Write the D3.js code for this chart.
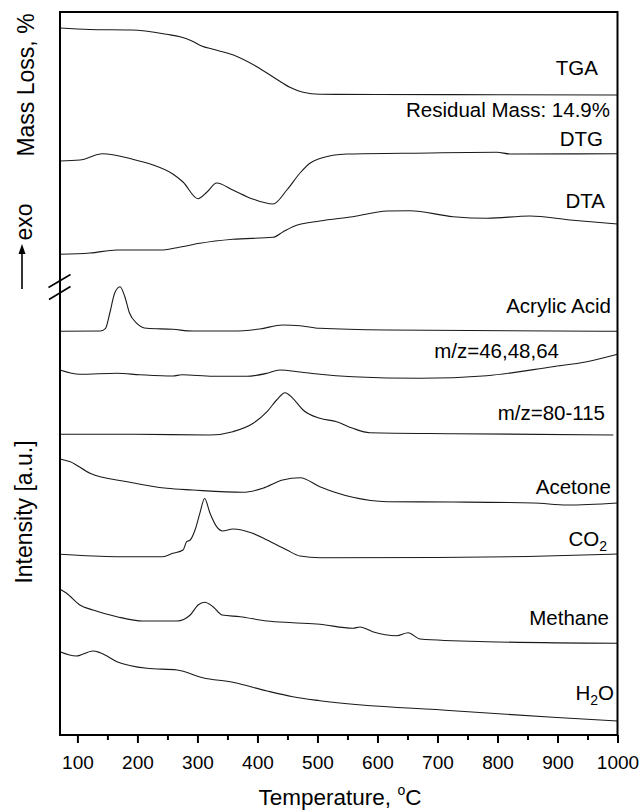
<!DOCTYPE html>
<html>
<head>
<meta charset="utf-8">
<script src="https://cdn.jsdelivr.net/npm/d3@7/dist/d3.min.js"></script>
<style>
  html, body { margin: 0; padding: 0; background: #fff; }
  text { font-family: "Liberation Sans", Arial, sans-serif; fill: #000; }
</style>
</head>
<body>
<svg id="chart" width="642" height="810"></svg>
<script>
// Temperature ticks (°C)
const majorTicks = [100, 200, 300, 400, 500, 600, 700, 800, 900, 1000];
const minorTicks = [150, 250, 350, 450, 550, 650, 750, 850, 950];

// Stacked traces, temperature (°C) and signal (a.u., vertically offset)
const tgaTemp   = [71, 120, 190, 249, 271, 290, 307, 326, 360, 399, 432, 454, 476, 504, 600, 800, 1000];
const tgaSignal = [707, 705.5, 705, 700.7, 698.3, 694.3, 689, 685.7, 680, 668.3, 655.7, 647.7, 642.7, 640.7, 640.5, 640.3, 640];

const dtgTemp   = [71, 104, 142, 192, 226, 259, 276, 301, 316, 332, 359, 392, 426, 449, 471, 488, 504, 549, 643, 799, 821, 1000];
const dtgSignal = [574, 575, 581.3, 575.7, 570, 561, 553, 536.3, 543, 552, 545, 536, 531, 545, 562, 572, 576.5, 581, 581.7, 582.7, 581, 581.3];

const dtaTemp   = [71, 121, 166, 238, 266, 304, 359, 426, 443, 459, 504, 559, 616, 654, 726, 783, 854, 921, 1000];
const dtaSignal = [480.7, 482, 485, 485, 487.3, 491.7, 495.7, 497.7, 503.3, 508.3, 514, 518.3, 524, 524.3, 518.3, 516.7, 519, 515, 511];

const acrylicTemp   = [71, 138, 147, 154, 162, 171, 179, 187, 199, 216, 259, 292, 359, 404, 442, 471, 504, 616, 1000];
const acrylicSignal = [403.7, 404, 406.7, 422, 441.7, 448.3, 438.3, 421.7, 411.7, 406.7, 405.7, 404, 404, 406, 410, 409.3, 406.7, 405, 403.7];

const mz46Temp   = [71, 104, 166, 204, 259, 274, 326, 382, 416, 437, 471, 504, 559, 671, 782, 892, 949, 1000];
const mz46Signal = [365, 360.7, 361.7, 360.3, 359, 360.3, 358.7, 358.7, 361.7, 365, 363, 360.7, 358.3, 356.7, 359.3, 368.3, 373.3, 380.7];

const mz80Temp   = [71, 192, 321, 359, 393, 416, 432, 446, 459, 476, 504, 532, 559, 587, 726, 993];
const mz80Signal = [300.7, 300.7, 300, 303.3, 311.7, 323.3, 335, 342.3, 336.7, 325, 316.7, 313.3, 306.7, 302.3, 301.3, 300];

const acetoneTemp   = [71, 88, 121, 183, 249, 292, 376, 409, 442, 471, 504, 559, 616, 726, 860, 916, 1000];
const acetoneSignal = [276, 273.3, 261.7, 253.3, 246.7, 245, 242.7, 246.7, 255, 257.3, 248.3, 237.7, 233.3, 233, 232, 230, 232];

const co2Temp   = [71, 166, 242, 259, 276, 282, 288, 296, 304, 312, 321, 332, 342, 359, 392, 416, 449, 471, 504, 700, 850, 1000];
const co2Signal = [180.7, 178.3, 178.3, 181.7, 185, 193.3, 195, 205, 221.7, 236.5, 221.7, 208.3, 204, 206, 201.7, 195, 185, 179, 177.3, 177.5, 178.5, 181];

const methaneTemp   = [71, 82, 104, 126, 166, 209, 266, 288, 301, 312, 326, 341, 371, 416, 459, 504, 559, 571, 592, 632, 651, 671, 782, 1000];
const methaneSignal = [145.7, 141.7, 130, 125, 118.3, 114, 114, 120, 130, 132.7, 128.3, 120, 118.3, 114, 112.3, 110.7, 106.7, 108, 103.3, 99.3, 102.3, 96, 93.3, 91.7];

const waterTemp   = [71, 98, 126, 138, 166, 216, 266, 309, 359, 416, 459, 504, 726, 892, 1000];
const waterSignal = [83.3, 79, 84, 82.3, 73.3, 66.7, 65, 57.3, 52.7, 44, 38.3, 34.3, 24.3, 17.7, 14];

const series = [
  { name: "TGA",          temp: tgaTemp,     signal: tgaSignal },
  { name: "DTG",          temp: dtgTemp,     signal: dtgSignal },
  { name: "DTA",          temp: dtaTemp,     signal: dtaSignal },
  { name: "Acrylic Acid", temp: acrylicTemp, signal: acrylicSignal },
  { name: "m/z=46,48,64", temp: mz46Temp,    signal: mz46Signal },
  { name: "m/z=80-115",   temp: mz80Temp,    signal: mz80Signal },
  { name: "Acetone",      temp: acetoneTemp, signal: acetoneSignal },
  { name: "CO2",          temp: co2Temp,     signal: co2Signal },
  { name: "Methane",      temp: methaneTemp, signal: methaneSignal },
  { name: "H2O",          temp: waterTemp,   signal: waterSignal }
];

const W = 642, H = 810;
const margin = { top: 12, right: 24.5, bottom: 75, left: 60 };
const svg = d3.select("#chart");

const x = d3.scaleLinear().domain([71, 1000]).range([margin.left, W - margin.right]);
const y = d3.scaleLinear().domain([0, 723]).range([H - margin.bottom, margin.top]);

const line = d3.line()
  .x(d => x(d[0]))
  .y(d => y(d[1]))
  .curve(d3.curveMonotoneX);

// traces
svg.append("g")
  .attr("fill", "none")
  .attr("stroke", "#1a1a1a")
  .attr("stroke-width", 1.1)
  .selectAll("path")
  .data(series)
  .join("path")
  .attr("d", s => line(s.temp.map((t, i) => [t, s.signal[i]])));

// x axis: major and minor ticks
const xAxis = svg.append("g")
  .attr("transform", `translate(0,${H - margin.bottom})`)
  .call(d3.axisBottom(x).tickValues(majorTicks).tickSize(8).tickPadding(12.5).tickFormat(d3.format("d")));
xAxis.select(".domain").remove();
xAxis.selectAll("line").attr("stroke", "#000").attr("stroke-width", 2);
xAxis.selectAll("text").attr("font-size", 19).attr("font-family", "Liberation Sans, Arial, sans-serif").attr("fill", "#000");

const xMinor = svg.append("g")
  .attr("transform", `translate(0,${H - margin.bottom})`)
  .call(d3.axisBottom(x).tickValues(minorTicks).tickSize(5).tickFormat(""));
xMinor.select(".domain").remove();
xMinor.selectAll("line").attr("stroke", "#000").attr("stroke-width", 2);

// frame
svg.append("rect")
  .attr("x", margin.left)
  .attr("y", margin.top)
  .attr("width", W - margin.left - margin.right)
  .attr("height", H - margin.top - margin.bottom)
  .attr("fill", "none")
  .attr("stroke", "#000")
  .attr("stroke-width", 2);

// axis break on the left spine
const brk = svg.append("g").attr("stroke", "#000").attr("stroke-width", 1.6);
brk.append("line").attr("x1", margin.left - 11.5).attr("y1", 287.5).attr("x2", margin.left + 10.5).attr("y2", 274.5);
brk.append("line").attr("x1", margin.left - 11).attr("y1", 299.5).attr("x2", margin.left + 10.5).attr("y2", 286.5);

// trace labels
const labelSpec = [
  { text: "TGA", x: 598, y: 75 },
  { text: "Residual Mass: 14.9%", x: 610, y: 117 },
  { text: "DTG", x: 603, y: 146 },
  { text: "DTA", x: 605, y: 208 },
  { text: "Acrylic Acid", x: 611, y: 313 },
  { text: "m/z=46,48,64", x: 559, y: 358 },
  { text: "m/z=80-115", x: 605, y: 420 },
  { text: "Acetone", x: 611, y: 494 },
  { text: "CO|2", x: 607, y: 546 },
  { text: "Methane", x: 609, y: 625 },
  { text: "H|2|O", x: 614, y: 700 }
];
const labels = svg.append("g").attr("font-size", 20.5).attr("text-anchor", "end");
labelSpec.forEach(l => {
  const t = labels.append("text").attr("x", l.x).attr("y", l.y);
  const parts = l.text.split("|");
  if (parts.length === 1) { t.text(l.text); return; }
  parts.forEach((p, i) => {
    const ts = t.append("tspan").text(p);
    if (p === "2") ts.attr("font-size", 14).attr("dy", 5);
    else if (i > 0) ts.attr("dy", -5);
  });
});

// axis titles
const xt = svg.append("text")
  .attr("x", 340).attr("y", 805)
  .attr("text-anchor", "middle")
  .attr("font-size", 22.5);
xt.append("tspan").text("Temperature, ");
xt.append("tspan").text("o").attr("font-size", 14).attr("dy", -10);
xt.append("tspan").text("C").attr("dy", 10);

svg.append("text")
  .attr("transform", "translate(34,85) rotate(-90)")
  .attr("text-anchor", "middle")
  .attr("font-size", 23)
  .text("Mass Loss, %");

svg.append("text")
  .attr("transform", "translate(32,512) rotate(-90)")
  .attr("text-anchor", "middle")
  .attr("font-size", 23)
  .text("Intensity [a.u.]");

svg.append("text")
  .attr("transform", "translate(32,222) rotate(-90)")
  .attr("text-anchor", "middle")
  .attr("font-size", 23)
  .text("exo");

// exo arrow
svg.append("line")
  .attr("x1", 22).attr("y1", 289).attr("x2", 22).attr("y2", 252)
  .attr("stroke", "#000").attr("stroke-width", 1.6);
svg.append("path")
  .attr("d", "M22,244 L18.5,254 L25.5,254 Z")
  .attr("fill", "#000");
</script>
</body>
</html>
